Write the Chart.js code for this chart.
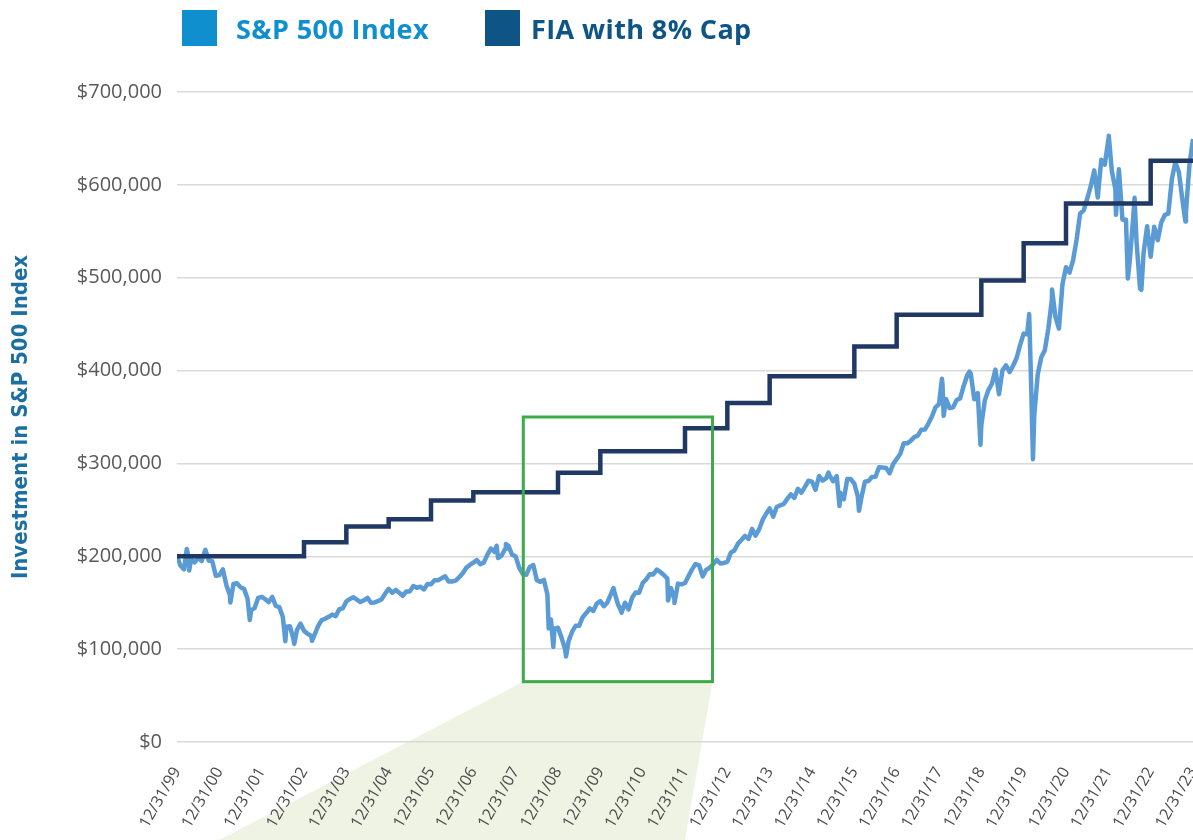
<!DOCTYPE html>
<html>
<head>
<meta charset="utf-8">
<title>S&amp;P 500 Index vs FIA with 8% Cap</title>
<script src="https://cdn.jsdelivr.net/npm/chart.js@4.4.1/dist/chart.umd.min.js"></script>
<style>
  html, body { margin: 0; padding: 0; background: #fff; }
  #wrap { position: relative; width: 1193px; height: 840px; overflow: hidden; }
  #chart { position: absolute; left: 0; top: 0; }
  .lg-box { position: absolute; top: 10px; width: 35px; height: 36px; }
  .lg-text { position: absolute; top: 10px; line-height: 38px; font-family: "Open Sans", sans-serif;
             font-weight: 700; font-size: 27px; letter-spacing: 0.4px; white-space: nowrap; }
</style>
</head>
<body>
<div id="wrap">
  <canvas id="chart" width="1193" height="840"></canvas>
  <div class="lg-box" style="left:182px;background:#0f8fcd"></div>
  <div class="lg-text" style="left:236px;color:#0f8fcd">S&amp;P 500 Index</div>
  <div class="lg-box" style="left:485px;background:#0e5585"></div>
  <div class="lg-text" style="left:531px;color:#0e5585">FIA with 8% Cap</div>
</div>
<script>
// x axis: years since 12/31/99
const xLabels = ["12/31/99", "12/31/00", "12/31/01", "12/31/02", "12/31/03", "12/31/04", "12/31/05",
  "12/31/06", "12/31/07", "12/31/08", "12/31/09", "12/31/10", "12/31/11", "12/31/12", "12/31/13",
  "12/31/14", "12/31/15", "12/31/16", "12/31/17", "12/31/18", "12/31/19", "12/31/20", "12/31/21",
  "12/31/22", "12/31/23"];

// FIA value ($ thousands) after each anniversary step, year 0..24
const fiaValuesK = [200, 200, 200, 215, 232, 240, 260, 269, 269, 290, 313, 313, 338,
  365, 394, 394, 426, 460, 460, 497, 537, 580, 580, 626, 626];

// S&P 500 investment ($ thousands), month ends from 12/31/99 to 12/31/23
const spMonthlyK = [200.0,
  189.8, 186.0, 204.0, 197.7, 193.4, 198.0, 194.8, 206.6, 195.5, 194.6, 179.0, 179.7,
  185.9, 168.8, 157.9, 170.1, 170.9, 166.7, 164.9, 154.3, 141.7, 144.3, 155.1, 156.3,
  153.8, 150.7, 156.2, 146.6, 145.3, 134.7, 124.1, 124.7, 111.0, 120.6, 127.5, 119.8,
  116.5, 114.5, 115.5, 124.8, 131.2, 132.7, 134.8, 137.2, 135.6, 143.0, 144.0, 151.4,
  154.0, 155.9, 153.3, 150.7, 152.6, 155.3, 150.0, 150.3, 151.7, 153.8, 159.8, 165.0,
  160.8, 163.8, 160.7, 157.5, 162.2, 162.2, 168.0, 166.1, 167.3, 164.3, 170.1, 169.9,
  174.2, 174.3, 176.3, 178.4, 172.9, 172.9, 173.8, 177.5, 181.8, 187.6, 190.7, 193.1,
  195.8, 191.5, 193.4, 201.8, 208.4, 204.6, 198.1, 200.6, 207.8, 210.9, 201.6, 199.9,
  187.7, 181.1, 180.1, 188.6, 190.6, 174.2, 172.5, 174.6, 158.8, 131.9, 122.0, 123.0,
  112.4, 100.1, 108.6, 118.8, 125.1, 125.1, 134.4, 138.9, 143.9, 141.1, 149.1, 151.8,
  146.2, 150.3, 159.2, 161.5, 148.3, 140.3, 150.0, 142.8, 155.3, 161.1, 160.7, 171.2,
  175.1, 180.7, 180.5, 185.6, 183.1, 179.8, 175.9, 165.9, 154.0, 170.6, 169.7, 171.2,
  178.7, 185.9, 191.7, 190.3, 178.4, 185.4, 187.8, 191.5, 196.1, 192.2, 192.8, 194.1,
  203.9, 206.2, 213.6, 217.5, 222.0, 218.7, 229.5, 222.3, 228.9, 239.1, 245.8, 251.6,
  242.7, 253.1, 254.9, 256.5, 261.8, 266.8, 262.8, 272.7, 268.5, 274.7, 281.4, 280.3,
  271.6, 286.5, 281.5, 283.9, 286.9, 280.8, 286.4, 268.5, 261.4, 283.1, 283.2, 278.2,
  264.1, 263.0, 280.4, 281.1, 285.4, 285.7, 295.9, 295.5, 295.2, 289.4, 299.3, 304.8,
  310.2, 321.7, 321.6, 324.5, 328.3, 329.9, 336.3, 336.5, 342.9, 350.6, 360.4, 363.9,
  384.4, 369.4, 359.5, 360.5, 368.3, 370.0, 383.4, 395.0, 396.7, 369.1, 375.7, 341.2,
  368.1, 379.0, 385.8, 401.0, 374.6, 400.4, 405.7, 398.4, 405.2, 413.5, 427.6, 439.8,
  439.1, 402.1, 351.8, 396.4, 414.4, 422.0, 445.3, 476.5, 457.8, 445.1, 493.0, 511.3,
  505.6, 518.8, 540.8, 569.2, 572.3, 585.0, 598.3, 615.6, 586.4, 626.9, 621.7, 648.8,
  614.7, 595.4, 616.7, 562.5, 562.5, 515.3, 562.2, 538.4, 488.1, 527.1, 555.4, 522.6,
  554.9, 540.4, 559.4, 567.6, 569.0, 605.8, 624.7, 613.6, 583.7, 570.9, 621.8, 649.3];

// intra-month highs and lows visible on the line
const spSwingX = [0.23, 0.29, 0.67, 1.26, 1.72, 2.56, 2.77, 3.19, 7.55, 7.77, 8.78, 8.89,
  9.19, 10.31, 10.50, 11.60, 11.75, 15.39, 15.65, 16.11, 18.07, 18.11, 18.72, 18.98,
  20.13, 20.22, 20.67, 22.01, 22.18, 22.46, 22.62, 22.78, 23.82];
const spSwingK = [207.9, 184.7, 207.0, 150.2, 131.5, 108.6, 105.7, 109.0, 211.4, 213.1, 122.4, 102.4,
  92.1, 165.7, 139.2, 152.4, 149.6, 290.1, 254.2, 249.0, 391.1, 351.3, 398.9, 320.0,
  460.9, 304.6, 487.4, 652.9, 567.7, 499.1, 586.0, 486.9, 560.5];

// highlighted 2008-2012 window (years, $ thousands) and its fan towards the bottom
const zoomBox = { x0: 8.18, x1: 12.65, y0: 65, y1: 350, fanLeft: 1.0, fanRight: 12.0 };

const spPoints = spMonthlyK.map((v, i) => ({ x: i / 12, y: v }))
  .concat(spSwingX.map((x, i) => ({ x: x, y: spSwingK[i] })))
  .sort((a, b) => a.x - b.x);
const fiaPoints = fiaValuesK.map((v, i) => ({ x: i, y: v }));

const zoomPlugin = {
  id: "zoomBox",
  beforeDraw(chart) {
    const { ctx, scales } = chart;
    const xs = scales.x, ys = scales.y;
    const bottom = ys.getPixelForValue(zoomBox.y0);
    ctx.save();
    ctx.fillStyle = "#eef3e3";
    ctx.beginPath();
    ctx.moveTo(xs.getPixelForValue(zoomBox.x0), bottom);
    ctx.lineTo(xs.getPixelForValue(zoomBox.x1), bottom);
    ctx.lineTo(xs.getPixelForValue(zoomBox.fanRight), chart.height);
    ctx.lineTo(xs.getPixelForValue(zoomBox.fanLeft), chart.height);
    ctx.closePath();
    ctx.fill();
    ctx.restore();
  },
  afterDatasetsDraw(chart) {
    const { ctx, scales } = chart;
    const xs = scales.x, ys = scales.y;
    const l = xs.getPixelForValue(zoomBox.x0);
    const r = xs.getPixelForValue(zoomBox.x1);
    const t = ys.getPixelForValue(zoomBox.y1);
    const b = ys.getPixelForValue(zoomBox.y0);
    ctx.save();
    ctx.strokeStyle = "#3dab4a";
    ctx.lineWidth = 3;
    ctx.strokeRect(l, t, r - l, b - t);
    ctx.restore();
  }
};

new Chart(document.getElementById("chart"), {
  type: "line",
  data: {
    datasets: [
      {
        label: "FIA with 8% Cap",
        data: fiaPoints,
        borderColor: "#1f3864",
        borderWidth: 4.5,
        pointRadius: 0,
        stepped: "before",
        order: 0
      },
      {
        label: "S&P 500 Index",
        data: spPoints,
        borderColor: "#5b9bd5",
        borderWidth: 4.5,
        borderJoinStyle: "round",
        pointRadius: 0,
        tension: 0,
        order: 1
      }
    ]
  },
  options: {
    responsive: false,
    animation: false,
    layout: { padding: { top: 92, right: 0, bottom: 0, left: 0 } },
    plugins: {
      legend: { display: false },
      tooltip: { enabled: false }
    },
    scales: {
      x: {
        type: "linear",
        min: 0,
        max: 24,
        afterBuildTicks: (s) => { s.ticks = xLabels.map((_, i) => ({ value: i })); },
        afterFit: (s) => { s.height = 98; s.paddingLeft = 0; s.paddingRight = 0; },
        ticks: {
          autoSkip: false,
          minRotation: 60,
          maxRotation: 60,
          padding: 14,
          labelOffset: 0,
          color: "#4a4a4a",
          font: { family: "'Open Sans', sans-serif", size: 16 },
          callback: (v) => xLabels[v]
        },
        grid: { display: false },
        border: { display: false }
      },
      y: {
        min: 0,
        max: 700,
        afterFit: (s) => { s.width = 177; },
        ticks: {
          stepSize: 100,
          padding: 15,
          color: "#595959",
          font: { family: "'Open Sans', sans-serif", size: 20 },
          callback: (v) => "$" + (v * 1000).toLocaleString("en-US")
        },
        grid: { color: "#d9d9d9", lineWidth: 1.5, drawTicks: false },
        border: { display: false },
        title: {
          display: true,
          text: "Investment in S&P 500 Index",
          color: "#1b6fa3",
          padding: { top: 8, bottom: 0 },
          font: { family: "'Liberation Sans Narrow', 'DejaVu Sans Condensed', sans-serif", weight: "bold", size: 22 }
        }
      }
    }
  },
  plugins: [zoomPlugin]
});
</script>
</body>
</html>
